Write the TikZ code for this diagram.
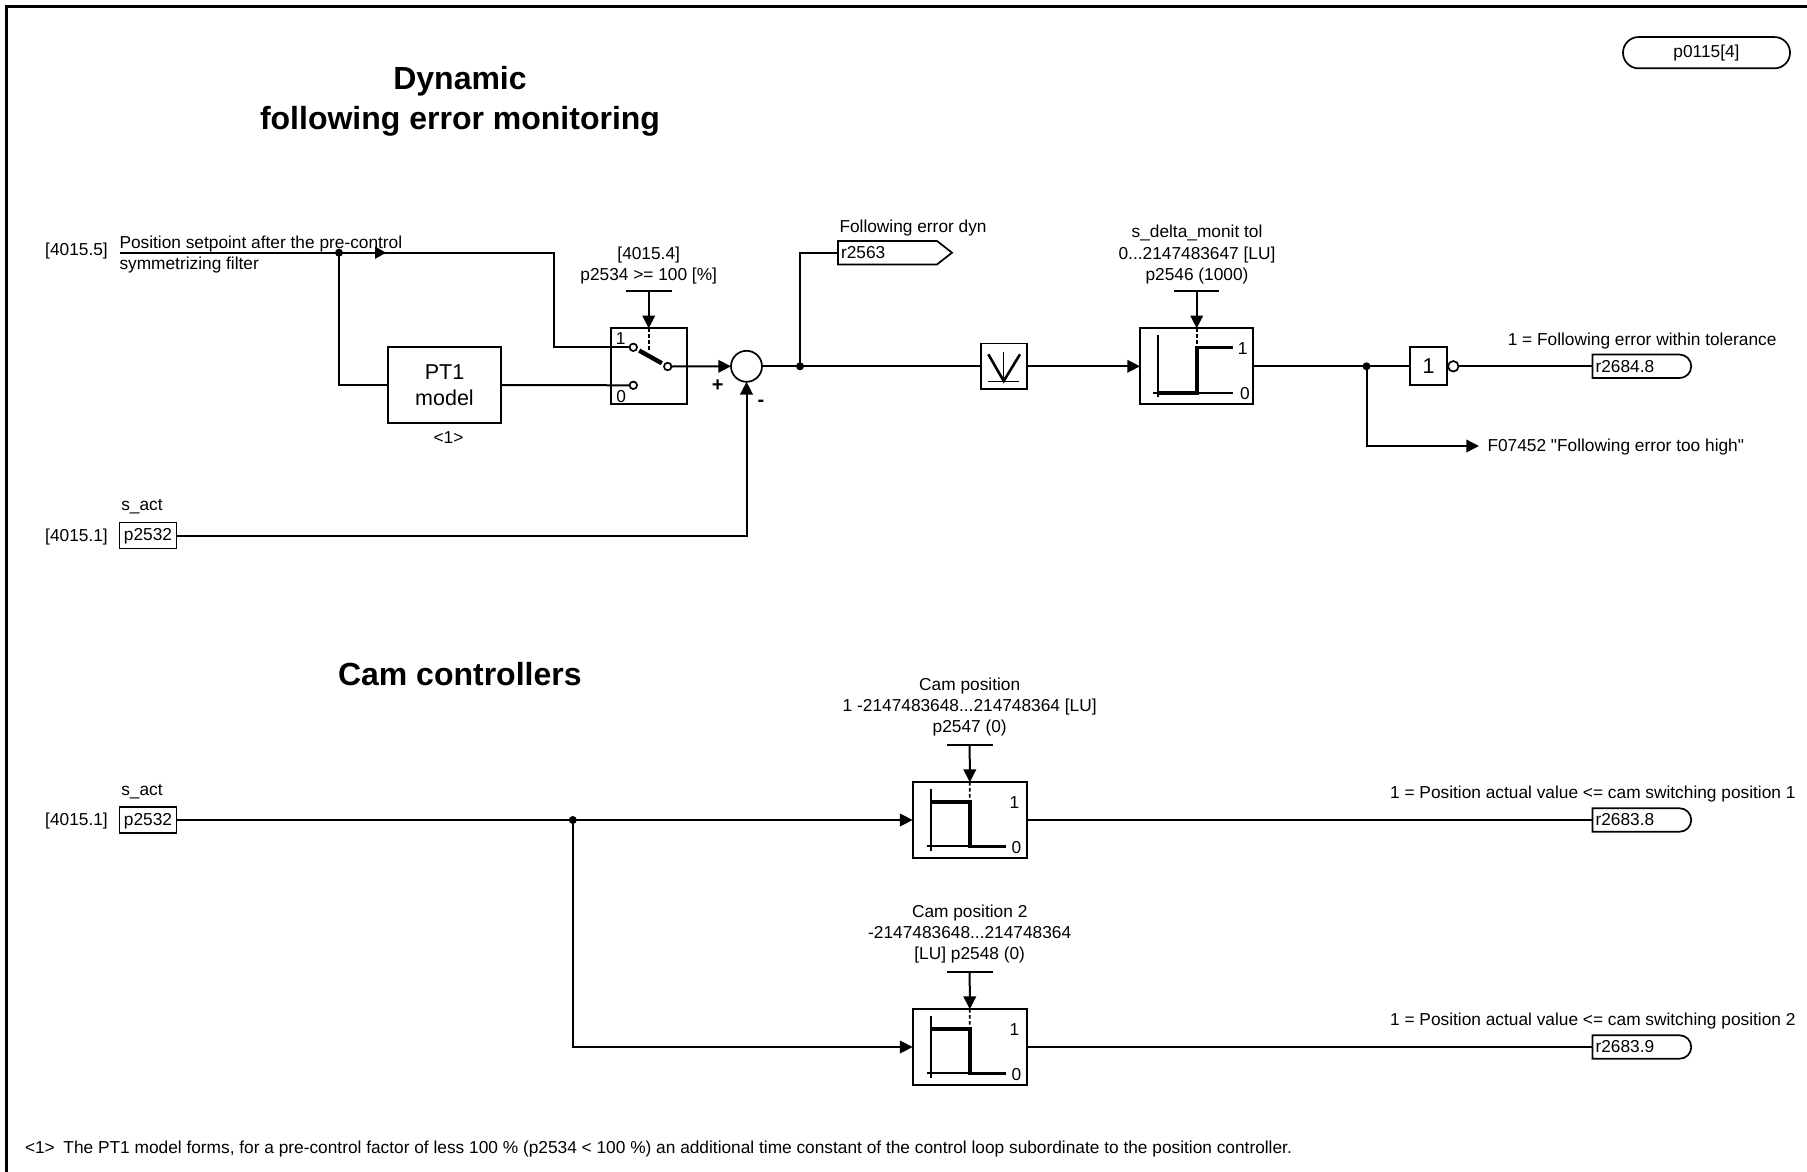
\documentclass[tikz,border=0pt]{standalone}
\usepackage{fontspec}
\setmainfont{Liberation Sans}
\newfontfamily\plainq{Liberation Sans}
\usetikzlibrary{arrows.meta,calc}
\tikzset{
  x=1pt,y=-1pt,
  txt/.style={inner sep=0pt,outer sep=0pt,align=center,font=\fontsize{17.3}{21.3}\selectfont,yshift=-1.2pt},
  ltxt/.style={txt,anchor=west,align=left},
  rtxt/.style={txt,anchor=east,align=right},
  title/.style={inner sep=0pt,outer sep=0pt,align=center,font=\fontsize{32}{40.3}\selectfont\bfseries},
  wire/.style={line width=2pt,line join=miter},
  arr/.style={wire,-{Triangle[length=12.7pt,width=12.5pt]}},
  blockbox/.style={draw=black,line width=1.9pt,fill=white,inner sep=0pt,outer sep=0pt,align=center,font=\fontsize{21.5}{25.5}\selectfont},
  parbox/.style={inner sep=0pt,outer sep=0pt,align=center,font=\fontsize{17.3}{21.3}\selectfont,draw=black,line width=1.9pt,minimum width=57pt,minimum height=26pt},
  tagbox/.style={inner ysep=0pt,outer sep=0pt,font=\fontsize{17.3}{21.3}\selectfont,text width=93pt,align=left,inner xsep=3pt,minimum height=23.5pt},
  junction/.style={circle,fill=black,inner sep=0pt,outer sep=0pt,minimum size=8pt},
  contact/.style={circle,draw=black,fill=white,line width=1.7pt,inner sep=0pt,outer sep=0pt,minimum size=7.5pt},
  bar/.style={line width=1.7pt},
  thick curve/.style={line width=3.6pt,line cap=butt,line join=miter},
  blade/.style={line width=4.4pt,line cap=butt},
  axis/.style={line width=1.7pt},
  dots/.style={line width=1.7pt,dash pattern=on 3.5pt off 2.5pt},
}
\begin{document}
\begin{tikzpicture}
\useasboundingbox (0,0) rectangle (1807,1172);
\fill[white] (0,0) rectangle (1807,1172);
\coordinate (frameBL) at (6.5,1172);
\coordinate (frameTL) at (6.5,6.5);
\coordinate (frameTR) at (1807,6.5);
\draw[line width=3.2pt,line join=miter] (frameBL) -- (frameTL) -- (frameTR);

% titles
\node[title] (t1) at (460,101.5) {Dynamic\\following error monitoring};
\node[title,anchor=west] (t2) at (338,674.5) {Cam controllers};
\node[txt,draw=black,line width=1.7pt,rounded corners=15.6pt,minimum width=167pt,minimum height=31.3pt,yshift=1.2pt] (p0115) at (1706.5,52.7) {p0115[4]};

% upper path: inputs
\node[txt] (ref1) at (76.5,250) {[4015.5]};
\coordinate (setStart) at (119.5,252.7);
\node[ltxt] (setA) at (119.5,242.5) {Position setpoint after the pre-control};
\node[ltxt] (setB) at (119.5,263.5) {symmetrizing filter};
\node[junction] (j1) at (339,252.7) {};
\coordinate (bendA) at (554,252.7);
\coordinate (midArrow) at (386,252.7);

% PT1 and switch
\node[blockbox,minimum width=113.5pt,minimum height=76pt] (pt1) at (444.5,385) {PT1\\model};
\node[txt] (pt1note) at (448.5,436) {<1>};
\node[blockbox,minimum width=76pt,minimum height=76pt] (sw) at (648.7,366.3) {};
\node[txt] at (620.7,337.5) {1};
\node[txt] at (621.2,395) {0};
\node[txt] (swref) at (648.7,264) {[4015.4]\\p2534 >= 100 [\%]};
\coordinate (swBar) at (648.7,290.7);
\coordinate (swBarL) at (625.5,290.7);
\coordinate (swBarR) at (672,290.7);
\draw[bar] (swBarL) -- (swBarR);
\draw[arr] (swBar) -- (sw.north);
\draw[dots] (sw.north) -- (648.7,351.5);
\node[contact] (c1) at (633.3,347.3) {};
\node[contact] (c0) at (633.3,385.3) {};
\node[contact] (cout) at (667.7,366.5) {};
\draw[wire] (setStart) -- (bendA) |- (c1.west);
\draw[wire] (j1.center) |- (pt1.west);
\draw[wire] (pt1.east) -- (c0.west);
\fill (375,246.5) -- (386,252.7) -- (375,258.9) -- cycle;
\draw[blade,shorten <=3pt,shorten >=3pt] (c1) -- (cout);

% sum
\node[circle,draw=black,line width=1.7pt,inner sep=0pt,outer sep=0pt,minimum size=31pt] (sum) at (746.5,366.3) {};
\draw[arr] (cout.east) -- (sum.west);
\node[txt,font=\fontsize{20}{20}\selectfont\bfseries] at (717.7,384) {+};
\node[txt,font=\fontsize{20}{20}\selectfont\bfseries] at (761,402) {-};
\node[txt] (ref2) at (76.5,535.5) {[4015.1]};
\node[txt] (sact1) at (142,505) {s\_act};
\node[parbox,text height=13pt,text depth=3pt] (p1) at (148,535.5) {p2532};
\draw[arr] (p1.east) -| (sum.south);

% after sum
\node[junction] (j2) at (800,366.3) {};
\node[txt,anchor=west] (fedyn) at (839.5,226.7) {Following error dyn};
\node[tagbox,anchor=west] (r2563) at (838,252.7) {r2563};
\draw[line width=1.7pt,line join=miter] (r2563.north west) -- (r2563.north east) -- ($(r2563.east)+(15,0)$) -- (r2563.south east) -- (r2563.south west) -- cycle;
\draw[wire] (j2.center) |- (r2563.west);

\node[blockbox,minimum width=45.5pt,minimum height=45.7pt] (abs) at (1003.8,366.3) {};
\draw[line width=2.6pt] (988.3,354.3) -- (1003.7,381) -- (1020,354.3);
\draw[line width=1.4pt] (1003.7,351.7) -- (1003.7,381.3);
\draw[line width=1.4pt] (988.3,381.3) -- (1019.3,381.3);
\draw[wire] (sum.east) -- (abs.west);

\node[txt] (tolref) at (1197,253.5) {s\_delta\_monit tol\\0...2147483647 [LU]\\p2546 (1000)};
\node[blockbox,minimum width=113.3pt,minimum height=76pt] (thr) at (1196.7,366.3) {};
\draw[arr] (abs.east) -- (thr.west);
\coordinate (thrBar) at (1196.7,290.7);
\draw[bar] (1173.8,290.7) -- (1219.4,290.7);
\draw[arr] (thrBar) -- (thr.north);
\draw[dots] (thr.north) -- (1196.7,347);
\draw[axis] (1158,335.3) -- (1158,397.3);
\draw[axis] (1153.3,392.7) -- (1232.7,392.7);
\draw[thick curve] (1158,392.7) -- (1196.7,392.7) -- (1196.7,347.3) -- (1233.3,347.3);
\node[txt] at (1242.7,347) {1};
\node[txt] at (1245,392) {0};

\node[junction] (j3) at (1366.5,366.3) {};
\node[blockbox,minimum width=37.4pt,minimum height=38pt] (notg) at (1428.7,366.3) {1};
\node[contact,minimum size=10.5pt] (notb) at (1453.3,366.3) {};
\draw[wire] (thr.east) -- (notg.west);
\node[txt,anchor=east] (okText) at (1776.5,339.5) {1 = Following error within tolerance};
\node[tagbox,anchor=west,text width=81pt] (r26848) at (1592.5,366.3) {r2684.8};
\draw[line width=1.7pt] (r26848.north east) arc[start angle=90,end angle=-90,radius=11.75pt] -- (r26848.south west) -- (r26848.north west) -- cycle;
\draw[wire] (notb.east) -- (r26848.west);
\node[ltxt] (fault) at (1487.5,446) {\plainq F07452 "Following error too high"};
\draw[arr] (j3.center) |- (1479,446);

% lower path
\node[txt] (ref3) at (76.5,820) {[4015.1]};
\node[txt] (sact2) at (142,790) {s\_act};
\node[parbox,text height=13pt,text depth=3pt] (p2) at (148,820) {p2532};
\node[junction] (j4) at (572.8,820) {};

\node[txt] (cam1txt) at (969.7,706) {Cam position\\1 -2147483648...214748364 [LU]\\p2547 (0)};
\node[blockbox,minimum width=114.3pt,minimum height=75.7pt] (cam1) at (969.8,820) {};
\coordinate (cam1bar) at (969.7,744.7);
\draw[bar] (946.7,744.7) -- (993,744.7);
\draw[arr] (cam1bar) -- (cam1.north);
\draw[dots] (cam1.north) -- (969.7,801.7);
\draw[axis] (931,789.3) -- (931,851);
\draw[axis] (926.7,846.3) -- (969.7,846.3);
\draw[thick curve] (931,801.7) -- (969.7,801.7) -- (969.7,846.3) -- (1006,846.3);
\node[txt] at (1014.3,801.7) {1};
\node[txt] at (1016.3,846.5) {0};

\node[txt] (cam2txt) at (969.7,933) {Cam position 2\\-2147483648...214748364\\{[LU]} p2548 (0)};
\node[blockbox,minimum width=114.3pt,minimum height=75.7pt] (cam2) at (969.8,1047) {};
\coordinate (cam2bar) at (969.7,971.7);
\draw[bar] (946.7,971.7) -- (993,971.7);
\draw[arr] (cam2bar) -- (cam2.north);
\draw[dots] (cam2.north) -- (969.7,1028.7);
\draw[axis] (931,1016.3) -- (931,1078);
\draw[axis] (926.7,1073.3) -- (969.7,1073.3);
\draw[thick curve] (931,1028.7) -- (969.7,1028.7) -- (969.7,1073.3) -- (1006,1073.3);
\node[txt] at (1014.3,1028.7) {1};
\node[txt] at (1016.3,1073.5) {0};

\draw[arr] (p2.east) -- (cam1.west);
\draw[arr] (j4.center) |- (cam2.west);

\node[rtxt] (cam1ok) at (1795.5,793) {1 = Position actual value <= cam switching position 1};
\node[rtxt] (cam2ok) at (1795.5,1020) {1 = Position actual value <= cam switching position 2};
\node[tagbox,anchor=west,text width=81pt] (r26838) at (1592.5,820) {r2683.8};
\draw[line width=1.7pt] (r26838.north east) arc[start angle=90,end angle=-90,radius=11.75pt] -- (r26838.south west) -- (r26838.north west) -- cycle;
\node[tagbox,anchor=west,text width=81pt] (r26839) at (1592.5,1047) {r2683.9};
\draw[line width=1.7pt] (r26839.north east) arc[start angle=90,end angle=-90,radius=11.75pt] -- (r26839.south west) -- (r26839.north west) -- cycle;
\draw[wire] (cam1.east) -- (r26838.west);
\draw[wire] (cam2.east) -- (r26839.west);

% footnote
\node[ltxt] (foot) at (25,1148) {<1>\hspace{0.5em}The PT1 model forms, for a pre-control factor of less 100 \% (p2534 < 100 \%) an additional time constant of the control loop subordinate to the position controller.};
\end{tikzpicture}
\end{document}
